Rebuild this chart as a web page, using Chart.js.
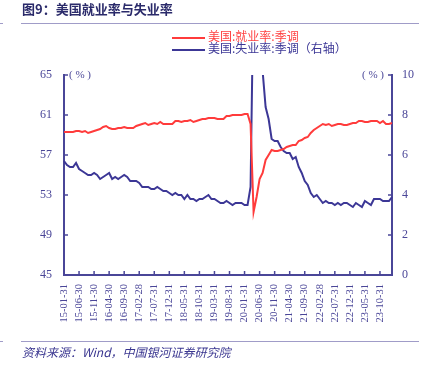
<!DOCTYPE html>
<html>
<head>
<meta charset="utf-8">
<script src="https://cdn.jsdelivr.net/npm/chart.js@4.4.0/dist/chart.umd.min.js"></script>
<style>
  body { margin: 0; background: #fff; }
  #wrap { position: relative; width: 428px; height: 370px; overflow: hidden; }
  #chart { position: absolute; left: 0; top: 0; }
  .title { position: absolute; left: 22px; top: -1px; font: bold 13px "Noto Sans CJK SC", sans-serif; color: #2a2a6a; }
  .rule { position: absolute; left: 21px; width: 398px; height: 0; border-top: 1.5px solid #a09cc8; }
  .stub { position: absolute; left: 0; width: 3px; height: 0; border-top: 1.5px solid #a09cc8; }
  .leg { position: absolute; left: 172px; font: 12px "Noto Sans CJK SC", sans-serif; line-height: 12px; white-space: nowrap; }
  .leg i { display: inline-block; width: 33px; height: 0; border-top: 2.5px solid; vertical-align: middle; margin-right: 3px; }
  .src { position: absolute; left: 22px; top: 343px; font: italic 12px "Noto Sans CJK SC", sans-serif; color: #3a3690; }
  .pct { position: absolute; top: 68px; font: 11px "Liberation Serif", serif; color: #4a4698; }
</style>
</head>
<body>
<div id="wrap">
  <canvas id="chart" width="428" height="370"></canvas>
  <div class="title">图9：美国就业率与失业率</div>
  <div class="stub" style="top:23px"></div>
  <div class="rule" style="top:23px"></div>
  <div class="leg" style="top:30px;color:#ff4040"><i style="border-color:#ff3b3b"></i>美国:就业率:季调</div>
  <div class="leg" style="top:42px;color:#3c3796"><i style="border-color:#3c3796"></i>美国:失业率:季调（右轴）</div>
  <div class="pct" style="left:69px">( % )</div>
  <div class="pct" style="left:362px">( % )</div>
  <div class="stub" style="top:341px"></div>
  <div class="rule" style="top:341px"></div>
  <div class="src">资料来源：Wind，中国银河证券研究院</div>
</div>
<script>
// month-end dates 2015-01 .. 2024-02
var categories = [];
for (var y = 2015; y <= 2024; y++) {
    for (var m = 1; m <= 12; m++) {
        if (y === 2024 && m > 2) break;
        var d = new Date(y, m, 0).getDate();
        categories.push(String(y).slice(2) + '-' + (m < 10 ? '0' : '') + m + '-' + d);
    }
}

// employment-population ratio, SA (%)
var employRate = [
    59.3, 59.3, 59.3, 59.3, 59.4, 59.4, 59.3, 59.4, 59.2, 59.3, 59.4, 59.5,
    59.6, 59.8, 59.9, 59.7, 59.6, 59.6, 59.7, 59.7, 59.8, 59.7, 59.7, 59.7,
    59.9, 60.0, 60.1, 60.2, 60.0, 60.1, 60.2, 60.1, 60.3, 60.1, 60.1, 60.1,
    60.1, 60.4, 60.4, 60.3, 60.4, 60.4, 60.5, 60.3, 60.4, 60.5, 60.6, 60.6,
    60.7, 60.7, 60.7, 60.6, 60.6, 60.6, 60.9, 60.9, 61.0, 61.0, 61.0, 61.0,
    61.1, 61.1, 60.1, 51.3, 52.8, 54.6, 55.2, 56.5, 57.0, 57.5, 57.4, 57.4,
    57.5, 57.6, 57.8, 57.9, 58.0, 58.0, 58.4, 58.5, 58.7, 58.8, 59.2, 59.5,
    59.7, 59.9, 60.1, 60.0, 60.1, 59.9, 60.0, 60.1, 60.1, 60.0, 60.0, 60.1,
    60.2, 60.2, 60.4, 60.4, 60.3, 60.3, 60.4, 60.4, 60.4, 60.2, 60.4, 60.1,
    60.1, 60.2
];

// unemployment rate, SA (%), right axis
var unemployRate = [
    5.7, 5.5, 5.4, 5.4, 5.6, 5.3, 5.2, 5.1, 5.0, 5.0, 5.1, 5.0,
    4.8, 4.9, 5.0, 5.1, 4.8, 4.9, 4.8, 4.9, 5.0, 4.9, 4.7, 4.7,
    4.7, 4.6, 4.4, 4.4, 4.4, 4.3, 4.3, 4.4, 4.3, 4.2, 4.2, 4.1,
    4.0, 4.1, 4.0, 4.0, 3.8, 4.0, 3.8, 3.8, 3.7, 3.8, 3.8, 3.9,
    4.0, 3.8, 3.8, 3.7, 3.6, 3.6, 3.7, 3.6, 3.5, 3.6, 3.6, 3.6,
    3.5, 3.5, 4.4, 14.8, 13.2, 11.0, 10.2, 8.4, 7.8, 6.8, 6.7, 6.7,
    6.4, 6.2, 6.1, 6.1, 5.8, 5.9, 5.4, 5.1, 4.7, 4.5, 4.1, 3.9,
    4.0, 3.8, 3.6, 3.7, 3.6, 3.6, 3.5, 3.6, 3.5, 3.6, 3.6, 3.5,
    3.4, 3.6, 3.5, 3.4, 3.7, 3.6, 3.5, 3.8, 3.8, 3.8, 3.7, 3.7,
    3.7, 3.9
];

var leftTicks = [45, 49, 53, 57, 61, 65];
var rightTicks = [0, 2, 4, 6, 8, 10];
var labelStep = 5;

var axisColor = '#4a4698';
var tickFont = { family: '"Liberation Serif", serif', size: 12 };

// small tick marks pointing into the plot
var innerTicks = {
    id: 'innerTicks',
    afterDraw: function(chart) {
        var ctx = chart.ctx, area = chart.chartArea;
        var x = chart.scales.x, yl = chart.scales.y, yr = chart.scales.y1;
        ctx.save();
        ctx.strokeStyle = axisColor;
        ctx.lineWidth = 1.5;
        ctx.beginPath();
        leftTicks.forEach(function(v) {
            var p = yl.getPixelForValue(v);
            ctx.moveTo(area.left, p); ctx.lineTo(area.left + 4, p);
        });
        rightTicks.forEach(function(v) {
            var p = yr.getPixelForValue(v);
            ctx.moveTo(area.right, p); ctx.lineTo(area.right - 4, p);
        });
        for (var i = 0; i < categories.length; i += labelStep) {
            var px = x.getPixelForValue(i);
            ctx.moveTo(px, area.bottom); ctx.lineTo(px, area.bottom - 4);
        }
        ctx.stroke();
        ctx.restore();
    }
};

new Chart(document.getElementById('chart'), {
    type: 'line',
    data: {
        labels: categories,
        datasets: [{
            label: '美国:就业率:季调',
            data: employRate,
            borderColor: '#ff3b3b',
            borderWidth: 2,
            pointRadius: 0,
            tension: 0,
            yAxisID: 'y'
        }, {
            label: '美国:失业率:季调（右轴）',
            data: unemployRate,
            borderColor: '#3c3796',
            borderWidth: 2,
            pointRadius: 0,
            tension: 0,
            yAxisID: 'y1'
        }]
    },
    options: {
        responsive: false,
        animation: false,
        layout: { padding: { left: 0, right: 0, top: 75, bottom: 35 } },
        plugins: { legend: { display: false }, tooltip: { enabled: false } },
        scales: {
            x: {
                offset: false,
                grid: { display: false, drawTicks: false },
                border: { display: true, color: axisColor, width: 2 },
                afterFit: function(s) { s.height = 60; },
                ticks: {
                    autoSkip: false,
                    maxRotation: 90,
                    minRotation: 90,
                    padding: 9,
                    color: axisColor,
                    font: { family: '"Liberation Serif", serif', size: 10.5 },
                    callback: function(v, i) { return i % labelStep === 0 ? categories[i] : ''; }
                }
            },
            y: {
                position: 'left',
                min: 45, max: 65,
                afterFit: function(s) { s.width = 64; },
                afterBuildTicks: function(s) { s.ticks = leftTicks.map(function(v) { return { value: v }; }); },
                grid: { display: false, drawTicks: false },
                border: { display: true, color: axisColor, width: 2 },
                ticks: { padding: 12, color: axisColor, font: tickFont }
            },
            y1: {
                position: 'right',
                min: 0, max: 10,
                afterFit: function(s) { s.width = 36; },
                afterBuildTicks: function(s) { s.ticks = rightTicks.map(function(v) { return { value: v }; }); },
                grid: { display: false, drawTicks: false },
                border: { display: true, color: axisColor, width: 2 },
                ticks: { padding: 10, color: axisColor, font: tickFont }
            }
        }
    },
    plugins: [innerTicks]
});
</script>
</body>
</html>
